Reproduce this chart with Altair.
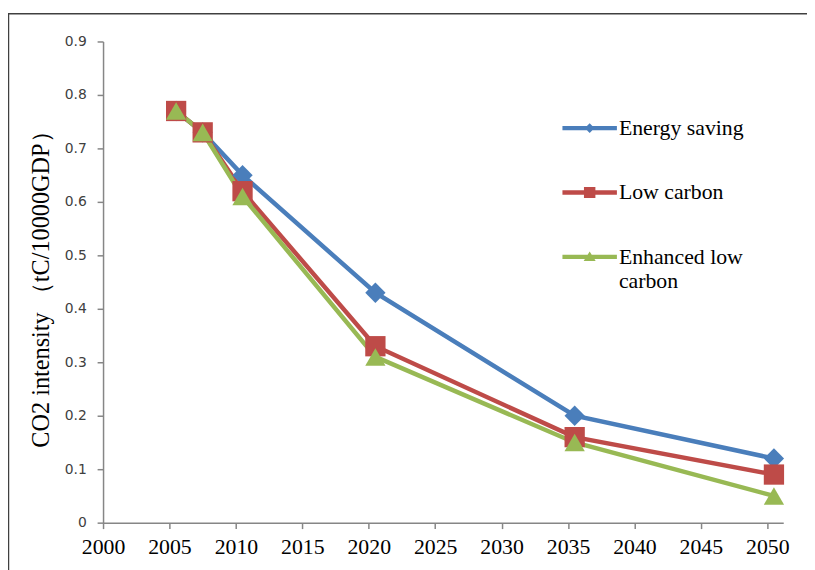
import altair as alt
import pandas as pd

# ---- data ----
series_names = ["Energy saving", "Low carbon", "Enhanced low carbon"]
years = [2005.5, 2007.5, 2010.5, 2020.5, 2035.5, 2050.5]
energy_saving = [0.77, 0.73, 0.65, 0.43, 0.20, 0.12]
low_carbon = [0.77, 0.73, 0.62, 0.33, 0.16, 0.09]
enhanced_low_carbon = [0.77, 0.73, 0.61, 0.31, 0.15, 0.05]
x_ticks = [2000, 2005, 2010, 2015, 2020, 2025, 2030, 2035, 2040, 2045, 2050]
y_ticks = [0, 0.1, 0.2, 0.3, 0.4, 0.5, 0.6, 0.7, 0.8, 0.9]

colors = ["#4A7EBB", "#BE4B48", "#98B954"]
point_shapes = ["diamond", "square", "triangle-up"]
legend_shapes = [
    "M-1,-0.08L-0.1,-0.08L0,-0.18L0.1,-0.08L1,-0.08L1,0.08L0.1,0.08L0,0.18L-0.1,0.08L-1,0.08Z",
    "M-1,-0.08L-0.21,-0.08L-0.21,-0.2L0.21,-0.2L0.21,-0.08L1,-0.08L1,0.08L0.21,0.08L0.21,0.2L-0.21,0.2L-0.21,0.08L-1,0.08Z",
    "M-1,-0.08L-0.075,-0.08L0,-0.2L0.075,-0.08L1,-0.08L1,0.08L0.176,0.08L0.22,0.15L-0.22,0.15L-0.176,0.08L-1,0.08Z",
]

SERIF = "Liberation Serif, Times New Roman, serif"

rows = []
for name, vals in zip(series_names, [energy_saving, low_carbon, enhanced_low_carbon]):
    for yr, v in zip(years, vals):
        rows.append({"year": yr, "value": v, "series": name})
df = pd.DataFrame(rows)

x_enc = alt.X(
    "year:Q",
    scale=alt.Scale(domain=[2000, 2051.2], nice=False, zero=False),
    axis=alt.Axis(
        values=x_ticks, format="d", title=None, grid=False,
        domainColor="#868686", domainWidth=1.5, tickColor="#868686", tickWidth=1.5,
        tickSize=6, labelPadding=8, labelFont=SERIF, labelFontSize=22,
        labelColor="#000000", labelFlush=False,
    ),
)
y_enc = alt.Y(
    "value:Q",
    scale=alt.Scale(domain=[0, 0.9], nice=False),
    axis=alt.Axis(
        values=y_ticks, title="CO2 intensity （tC/10000GDP）", grid=False,
        labelExpr="datum.value == 0 ? '0' : format(datum.value, '.1f')",
        domainColor="#868686", domainWidth=1.5, tickColor="#868686", tickWidth=1.5,
        tickSize=6, labelPadding=11, labelFont="DejaVu Sans", labelFontSize=14,
        labelColor="#404040", labelFlush=False,
        titleFont=SERIF, titleFontSize=24.5, titleFontWeight="normal",
        titleColor="#000000", titleAngle=270, titleX=-62, titleY=244,
        titleBaseline="middle", titleAlign="center",
    ),
)

color_scale = alt.Scale(domain=series_names, range=colors)

lines = alt.Chart(df).mark_line(strokeWidth=4.5).encode(
    x=x_enc, y=y_enc,
    color=alt.Color("series:N", scale=color_scale, legend=None),
)

points = alt.Chart(df).mark_point(filled=True, opacity=1, size=420).encode(
    x=x_enc, y=y_enc,
    color=alt.Color("series:N", scale=color_scale, legend=None),
    shape=alt.Shape("series:N", scale=alt.Scale(domain=series_names, range=point_shapes), legend=None),
)

legend_props = dict(
    orient="none", legendX=464, legendY=60, title=None, padding=0,
    rowPadding=26, symbolSize=3025, symbolStrokeWidth=0, symbolOpacity=1,
    labelFont=SERIF, labelFontSize=22, labelColor="#000000",
    labelOffset=2, labelLimit=400, labelBaseline="middle",
    labelExpr="datum.label == 'Enhanced low carbon' ? ['Enhanced low', 'carbon'] : datum.label",
)

legend_layer = alt.Chart(df).mark_point(filled=True, opacity=1).encode(
    x=x_enc, y=y_enc,
    color=alt.Color("series:N", scale=color_scale, legend=alt.Legend(**legend_props)),
    shape=alt.Shape("series:N", scale=alt.Scale(domain=series_names, range=legend_shapes),
                    legend=alt.Legend(**legend_props)),
).transform_filter("false")

border = alt.Chart(alt.Data(values=[{}])).mark_rect(
    fill="transparent", stroke="#404040", strokeWidth=1.5
).encode(
    x=alt.value(-95.5), y=alt.value(-28), x2=alt.value(900), y2=alt.value(900)
)

chart = alt.layer(border, lines, points, legend_layer).resolve_scale(
    color="independent", shape="independent"
).properties(
    width=687, height=486,
    autosize=alt.AutoSizeParams(type="none"),
    padding={"left": 96, "top": 31, "right": 24, "bottom": 45},
).configure_view(strokeWidth=0)

chart.save("out.html", embed_options={"renderer": "svg", "actions": False})
